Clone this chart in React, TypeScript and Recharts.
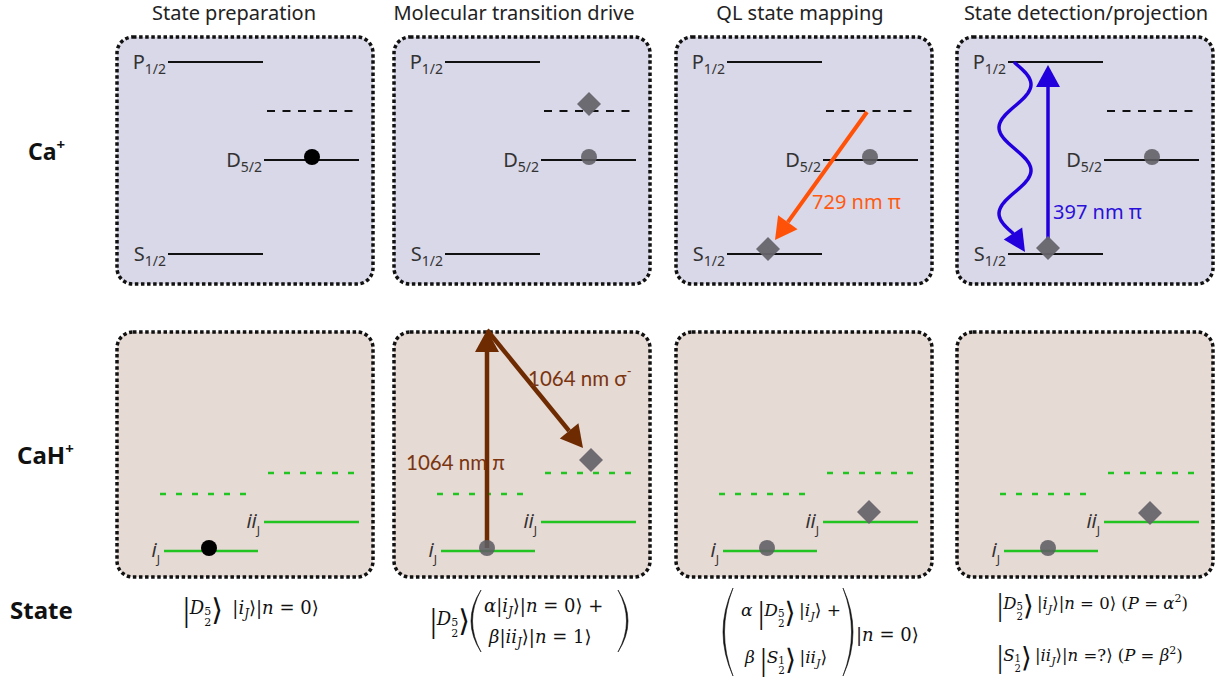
import React from "react";
import {
  ComposedChart,
  XAxis,
  YAxis,
  ReferenceArea,
  ReferenceLine,
  ReferenceDot,
  Scatter,
} from "recharts";

const W = 1221;
const H = 681;

// headings
const columnTitles = [
  "State preparation",
  "Molecular transition drive",
  "QL state mapping",
  "State detection/projection",
];
const titleCenters = [234, 514, 800, 1086];

// panel grid (px)
const panelLeft = [117, 394, 676, 957];
const panelWidth = 256;
const rowTop = [37, 332];
const rowHeight = [247, 245];
const rowFill = ["#d9d8e8", "#e6dad5"];

// Ca+ levels, offsets inside a top panel
const caLevels = [
  { name: "P", sub: "1/2", y: 25, from: 51, to: 146, dashed: false },
  { name: "", sub: "", y: 74, from: 150, to: 242, dashed: true },
  { name: "D", sub: "5/2", y: 123, from: 147, to: 242, dashed: false },
  { name: "S", sub: "1/2", y: 217, from: 51, to: 146, dashed: false },
];

// CaH+ levels, offsets inside a bottom panel
const cahLevels = [
  { name: "", y: 141, from: 151, to: 242, dashed: true },
  { name: "", y: 162, from: 43, to: 134, dashed: true },
  { name: "ii", y: 190, from: 147, to: 242, dashed: false },
  { name: "i", y: 219, from: 47, to: 141, dashed: false },
];

// populations: column, row, offset in panel
const blackDots = [
  { c: 0, r: 0, x: 195, y: 120 },
  { c: 0, r: 1, x: 92, y: 216 },
];
const grayDots = [
  { c: 1, r: 0, x: 195, y: 120 },
  { c: 1, r: 1, x: 93, y: 216 },
  { c: 2, r: 0, x: 194, y: 120 },
  { c: 2, r: 1, x: 91, y: 216 },
  { c: 3, r: 0, x: 195, y: 120 },
  { c: 3, r: 1, x: 91, y: 216 },
];
const diamonds = [
  { c: 1, r: 0, x: 195, y: 67 },
  { c: 1, r: 1, x: 197, y: 128 },
  { c: 2, r: 0, x: 92, y: 212 },
  { c: 2, r: 1, x: 193, y: 180 },
  { c: 3, r: 0, x: 91, y: 211 },
  { c: 3, r: 1, x: 193, y: 181 },
];

// transitions
const arrows = [
  { c: 1, r: 1, x1: 93, y1: 216, x2: 93, y2: -2, color: "#6e2a00", w: 4.5 },
  { c: 1, r: 1, x1: 93, y1: -2, x2: 189, y2: 116, color: "#6e2a00", w: 4.5 },
  { c: 2, r: 0, x1: 191, y1: 75, x2: 99, y2: 203, color: "#ff5208", w: 4 },
  { c: 3, r: 0, x1: 91, y1: 203, x2: 91, y2: 28, color: "#2200dd", w: 3.5 },
];
const decay = { c: 3, r: 0, x1: 58, y1: 26, x2: 68, y2: 215, color: "#2200dd" };

const transitionLabels = [
  { c: 1, r: 1, x: 134, y: 54, text: "1064 nm σ", sup: "-", color: "#7a3510" },
  { c: 1, r: 1, x: 12, y: 138, text: "1064 nm π", sup: "", color: "#7a3510" },
  { c: 2, r: 0, x: 136, y: 172, text: "729 nm π", sup: "", color: "#ff5a10" },
  { c: 3, r: 0, x: 96, y: 182, text: "397 nm π", sup: "", color: "#2a10d8" },
];

const px = (c: number, x: number) => panelLeft[c] + x;
const py = (r: number, y: number) => rowTop[r] + y;

const place = (arr: { c: number; r: number; x: number; y: number }[]) =>
  arr.map((d) => ({ x: px(d.c, d.x), y: py(d.r, d.y) }));

const labelFont = "'Noto Sans', 'Open Sans', sans-serif";
const mathFont = "'DejaVu Serif', 'Liberation Serif', serif";
const thinFont = "'Liberation Serif', serif";

const PanelShape = (p: any) => (
  <rect
    x={p.x}
    y={p.y}
    width={p.width}
    height={p.height}
    rx={16}
    fill={p.fill}
    stroke="#111"
    strokeWidth={3.5}
    strokeDasharray="3.5 2.6"
  />
);

const arrowHead = (x1: number, y1: number, x2: number, y2: number, len: number, half: number) => {
  const dx = x2 - x1;
  const dy = y2 - y1;
  const d = Math.hypot(dx, dy) || 1;
  const ux = dx / d;
  const uy = dy / d;
  const bx = x2 - ux * len;
  const by = y2 - uy * len;
  return {
    bx,
    by,
    pts: `${x2},${y2} ${bx - uy * half},${by + ux * half} ${bx + uy * half},${by - ux * half}`,
  };
};

const makeArrow = (color: string, w: number) => (p: any) => {
  const h = arrowHead(p.x1, p.y1, p.x2, p.y2, 22, 12);
  return (
    <g>
      <line x1={p.x1} y1={p.y1} x2={h.bx} y2={h.by} stroke={color} strokeWidth={w} />
      <polygon points={h.pts} fill={color} />
    </g>
  );
};

const WavyArrow = (p: any) => {
  const amp = 16;
  const half = 43;
  const endY = p.y2 - 19;
  let d = `M${p.x1},${p.y1}`;
  let lastX = p.x1;
  for (let y = p.y1; y <= endY; y += 2) {
    lastX = p.x1 + amp * Math.sin((Math.PI * (y - p.y1)) / half);
    d += ` L${lastX.toFixed(1)},${y}`;
  }
  const h = arrowHead(lastX - 4, endY - 6, p.x2, p.y2, 22, 11);
  return (
    <g>
      <path d={d} fill="none" stroke={decay.color} strokeWidth={3.5} strokeLinecap="round" />
      <polygon points={h.pts} fill={decay.color} />
    </g>
  );
};

const Dot = (fill: string, opacity: number) => (p: any) => (
  <circle cx={p.cx} cy={p.cy} r={8} fill={fill} fillOpacity={opacity} />
);
const Diamond = (p: any) => (
  <polygon
    points={`${p.cx},${p.cy - 12} ${p.cx + 12},${p.cy} ${p.cx},${p.cy + 12} ${p.cx - 12},${p.cy}`}
    fill="#67656c"
    fillOpacity={0.95}
  />
);

// label drawn at a reference dot
const levelLabel = (name: string, sub: string, italic: boolean, subDy: number) => (p: any) => (
  <text x={p.cx} y={p.cy} textAnchor="end" fontFamily={labelFont} fontSize={20} fill="#333">
    <tspan fontStyle={italic ? "italic" : undefined}>{name}</tspan>
    <tspan fontSize={italic ? 12 : 14} dy={subDy}>
      {sub}
    </tspan>
  </text>
);

const transLabel = (l: (typeof transitionLabels)[number]) => (p: any) => (
  <text
    x={p.cx}
    y={p.cy}
    fontFamily={l.r === 1 ? "Lato, 'Noto Sans', sans-serif" : labelFont}
    fontSize={l.r === 1 ? 20.5 : 20}
    fill={l.color}
  >
    {l.text}
    {l.sup && (
      <tspan fontSize={13} dy={-10}>
        {l.sup}
      </tspan>
    )}
  </text>
);

// math pieces
type Seg = { t: string; s?: number; it?: boolean; off?: number; dx?: number; f?: string };
const MathText = ({ x, y, segs, size = 18 }: { x: number; y: number; segs: Seg[]; size?: number }) => {
  let prev = 0;
  const k = size / 18;
  return (
    <text x={x} y={y} fontFamily={mathFont} fontSize={size} fill="#111">
      {segs.map((g, i) => {
        const off = (g.off ?? 0) * k;
        const dy = off - prev;
        prev = off;
        return (
          <tspan
            key={i}
            dy={dy || undefined}
            dx={g.dx !== undefined ? g.dx * k : undefined}
            fontSize={g.s !== undefined ? g.s * k : undefined}
            fontStyle={g.it ? "italic" : undefined}
            fontFamily={g.f}
          >
            {g.t}
          </tspan>
        );
      })}
    </text>
  );
};

const bigKet = (name: string, num: string): Seg[] => [
  { t: "|", s: 34, off: 7, f: thinFont },
  { t: name, it: true, s: 18, off: 0 },
  { t: num, s: 11, off: 1 },
  { t: "2", s: 11, off: 12, dx: -7 },
  { t: "⟩", s: 30, off: 6 },
  { t: "\u2009", off: 0 },
];
const ket = (name: string): Seg[] => [
  { t: "|" },
  { t: name, it: true },
  { t: "J", it: true, s: 12, off: 4 },
  { t: "⟩", off: 0 },
];
const nKet = (v: string): Seg[] => [{ t: "|" }, { t: "n", it: true }, { t: v }, { t: "⟩" }];

const Paren = ({ x, y1, y2, left }: { x: number; y1: number; y2: number; left: boolean }) => {
  const w = 10;
  const m = (y1 + y2) / 2;
  const s = left ? 1 : -1;
  const e = x + s * w;
  const d = `M${e},${y1} Q${x - s * w},${m} ${e},${y2} Q${x - s * w + s * 3},${m} ${e},${y1} Z`;
  return <path d={d} fill="#111" stroke="#111" strokeWidth={0.6} />;
};

const Texts = () => (
  <g>
    {columnTitles.map((t, i) => (
      <text key={t} x={titleCenters[i]} y={20} textAnchor="middle" fontFamily={labelFont} fontSize={20} fill="#222">
        {t}
      </text>
    ))}
    <text x={28} y={160} fontFamily={labelFont} fontWeight={700} fontSize={23} fill="#111">
      Ca<tspan fontSize={15} dy={-10}>+</tspan>
    </text>
    <text x={17} y={464} fontFamily={labelFont} fontWeight={700} fontSize={24} fill="#111">
      CaH<tspan fontSize={15} dy={-10}>+</tspan>
    </text>
    <text x={10} y={619} fontFamily={labelFont} fontWeight={700} fontSize={24} fill="#111">
      State
    </text>

    {/* state column */}
    <MathText x={183} y={614} segs={[...bigKet("D", "5"), { t: " " }, ...ket("i"), ...nKet(" = 0")]} />

    <MathText x={430} y={625} segs={bigKet("D", "5")} />
    <Paren x={471} y1={590} y2={652} left />
    <MathText x={484} y={612} segs={[{ t: "α", it: true }, ...ket("i"), ...nKet(" = 0"), { t: " +" }]} />
    <MathText x={489} y={643} segs={[{ t: "β", it: true }, ...ket("ii"), ...nKet(" = 1")]} />
    <Paren x={628} y1={590} y2={652} left={false} />

    <Paren x={723} y1={588} y2={676} left />
    <MathText x={741} y={616} size={17} segs={[{ t: "α ", it: true }, ...bigKet("D", "5"), ...ket("i"), { t: " +" }]} />
    <MathText x={745} y={663} size={17} segs={[{ t: "β ", it: true }, ...bigKet("S", "1"), ...ket("ii")]} />
    <Paren x={853} y1={588} y2={676} left={false} />
    <MathText x={856} y={641} segs={nKet(" = 0")} />

    <MathText
      x={997}
      y={609}
      size={16.5}
      segs={[...bigKet("D", "5"), ...ket("i"), ...nKet(" = 0"), { t: " (" }, { t: "P", it: true }, { t: " = " }, { t: "α", it: true }, { t: "2", s: 12, off: -8 }, { t: ")", off: 0 }]}
    />
    <MathText
      x={997}
      y={661}
      size={16.5}
      segs={[...bigKet("S", "1"), ...ket("ii"), ...nKet(" =?"), { t: " (" }, { t: "P", it: true }, { t: " = " }, { t: "β", it: true }, { t: "2", s: 12, off: -8 }, { t: ")", off: 0 }]}
    />
  </g>
);

export default function App() {
  return (
    <div style={{ position: "absolute", left: 0, top: 0, width: W, height: H, background: "#fff" }}>
      <ComposedChart width={W} height={H} margin={{ top: 0, right: 0, bottom: 0, left: 0 }}>
        <XAxis type="number" dataKey="x" domain={[0, W]} hide allowDataOverflow />
        <YAxis type="number" dataKey="y" domain={[0, H]} reversed hide allowDataOverflow />

        {rowTop.map((top, r) =>
          panelLeft.map((left) => (
            <ReferenceArea
              key={`p${r}${left}`}
              x1={left}
              x2={left + panelWidth}
              y1={top}
              y2={top + rowHeight[r]}
              fill={rowFill[r]}
              fillOpacity={1}
              ifOverflow="visible"
              shape={PanelShape}
            />
          ))
        )}

        {panelLeft.map((_, c) =>
          caLevels.map((l) => (
            <ReferenceLine
              key={`cl${c}${l.y}`}
              segment={[
                { x: px(c, l.from), y: py(0, l.y) },
                { x: px(c, l.to), y: py(0, l.y) },
              ]}
              stroke="#111"
              strokeWidth={2.2}
              strokeDasharray={l.dashed ? "8 7.5" : undefined}
              ifOverflow="visible"
            />
          ))
        )}
        {panelLeft.map((_, c) =>
          cahLevels.map((l) => (
            <ReferenceLine
              key={`hl${c}${l.y}`}
              segment={[
                { x: px(c, l.from), y: py(1, l.y) },
                { x: px(c, l.to), y: py(1, l.y) },
              ]}
              stroke="#22c422"
              strokeWidth={2.5}
              strokeDasharray={l.dashed ? "6 10" : undefined}
              ifOverflow="visible"
            />
          ))
        )}

        {arrows.map((a, i) => (
          <ReferenceLine
            key={`a${i}`}
            segment={[
              { x: px(a.c, a.x1), y: py(a.r, a.y1) },
              { x: px(a.c, a.x2), y: py(a.r, a.y2) },
            ]}
            ifOverflow="visible"
            shape={makeArrow(a.color, a.w)}
          />
        ))}
        <ReferenceLine
          segment={[
            { x: px(decay.c, decay.x1), y: py(decay.r, decay.y1) },
            { x: px(decay.c, decay.x2), y: py(decay.r, decay.y2) },
          ]}
          ifOverflow="visible"
          shape={WavyArrow}
        />

        {panelLeft.map((_, c) =>
          caLevels
            .filter((l) => l.name)
            .map((l) => (
              <ReferenceDot
                key={`cal${c}${l.name}`}
                x={px(c, l.from - 2)}
                y={py(0, l.y + 7)}
                r={0}
                ifOverflow="visible"
                shape={levelLabel(l.name, l.sub, false, 5)}
              />
            ))
        )}
        {panelLeft.map((_, c) =>
          cahLevels
            .filter((l) => l.name)
            .map((l) => (
              <ReferenceDot
                key={`hal${c}${l.name}`}
                x={px(c, l.from - 4)}
                y={py(1, l.y + 6)}
                r={0}
                ifOverflow="visible"
                shape={levelLabel(l.name, "J", true, 7)}
              />
            ))
        )}
        {transitionLabels.map((l) => (
          <ReferenceDot
            key={`tl${l.text}${l.c}`}
            x={px(l.c, l.x)}
            y={py(l.r, l.y)}
            r={0}
            ifOverflow="visible"
            shape={transLabel(l)}
          />
        ))}

        <Scatter data={place(blackDots)} dataKey="y" shape={Dot("#000", 1)} isAnimationActive={false} />
        <Scatter data={place(grayDots)} dataKey="y" shape={Dot("#5f5d63", 0.88)} isAnimationActive={false} />
        <Scatter data={place(diamonds)} dataKey="y" shape={Diamond} isAnimationActive={false} />

        <Texts />
      </ComposedChart>
    </div>
  );
}
